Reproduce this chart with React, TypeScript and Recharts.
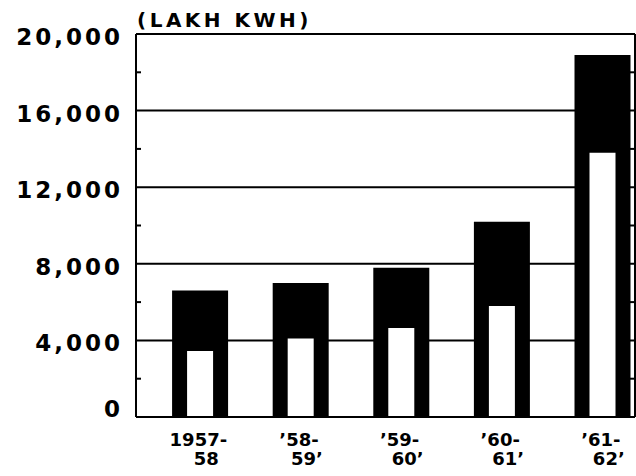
import React from 'react';
import {Bar, BarChart, CartesianGrid, ReferenceLine, XAxis, YAxis} from 'recharts';

// years, split on two lines like the printed labels
const yearTop = ['1957-', '\u201958-', '\u201959-', '\u201960-', '\u201961-'];
const yearBottom = ['58', '59\u2019', '60\u2019', '61\u2019', '62\u2019'];

// units generated (lakh kWh): black bar = total, white bar = inner part
const totalUnits = [6600, 7000, 7800, 10200, 18900];
const innerUnits = [3450, 4100, 4650, 5800, 13800];

const yTicks = [0, 4000, 8000, 12000, 16000, 20000];
const minorTicks = [2000, 6000, 10000, 14000, 18000];

const data = yearTop.map((_, i) => ({idx: i, total: totalUnits[i], inner: innerUnits[i]}));

const X_DOMAIN: [number, number] = [-0.64, 4.32];
const FONT = '"DejaVu Sans", sans-serif';

const XTick = (props: any) => {
    const {x, y, payload} = props;
    const i = payload.value;
    return (
        <g>
            <text x={x - 2} y={y + 21} textAnchor="middle" fontFamily={FONT} fontWeight="bold"
                  fontSize={18} fill="#000">{yearTop[i]}</text>
            <text x={x + 6} y={y + 40} textAnchor="middle" fontFamily={FONT} fontWeight="bold"
                  fontSize={18} fill="#000">{yearBottom[i]}</text>
        </g>
    );
};

const YTick = (props: any) => {
    const {x, y, payload} = props;
    const v = payload.value;
    return (
        <text x={x} y={v === 0 ? y : y + 11} textAnchor="end" fontFamily={FONT} fontWeight="bold"
              fontSize={23} letterSpacing={3} fill="#000">
            {v.toLocaleString('en-US')}
        </text>
    );
};

const App: React.FC = () => {
    return (
        <div style={{position: 'absolute', left: 0, top: 0, width: 636, height: 476, background: '#fff'}}>
            <div style={{
                position: 'absolute', left: 137, top: 10, lineHeight: '20px', fontFamily: FONT,
                fontWeight: 'bold', fontSize: 20, letterSpacing: 3.5, whiteSpace: 'nowrap'
            }}>(LAKH KWH)
            </div>
            <BarChart width={636} height={476} data={data}
                      margin={{top: 34, right: 1, left: 0, bottom: 0}}>
                <CartesianGrid vertical={false} stroke="#000" strokeWidth={2}/>
                <XAxis xAxisId="outer" type="number" dataKey="idx" domain={X_DOMAIN}
                       allowDataOverflow ticks={[0, 1, 2, 3, 4]} interval={0}
                       tick={XTick} tickLine={false} height={59}
                       axisLine={{stroke: '#000', strokeWidth: 2}}/>
                <XAxis xAxisId="inner" type="number" dataKey="idx" domain={X_DOMAIN}
                       allowDataOverflow hide height={0}/>
                <YAxis domain={[0, 20000]} ticks={yTicks} interval={0} width={136}
                       tick={YTick} tickLine={false} tickSize={6} tickMargin={7}
                       axisLine={{stroke: '#000', strokeWidth: 2}}/>
                <Bar xAxisId="outer" dataKey="total" fill="#000" barSize={56}
                     isAnimationActive={false}/>
                <Bar xAxisId="inner" dataKey="inner" fill="#fff" barSize={26}
                     isAnimationActive={false}/>
                <ReferenceLine xAxisId="outer" x={X_DOMAIN[1]} stroke="#000" strokeWidth={2}
                               ifOverflow="visible"/>
                {minorTicks.map(v => (
                    <ReferenceLine key={'l' + v} xAxisId="outer" ifOverflow="visible"
                                   segment={[{x: X_DOMAIN[0], y: v}, {x: X_DOMAIN[0] + 0.05, y: v}]}
                                   stroke="#000" strokeWidth={2}/>
                ))}
                {minorTicks.map(v => (
                    <ReferenceLine key={'r' + v} xAxisId="outer" ifOverflow="visible"
                                   segment={[{x: X_DOMAIN[1] - 0.05, y: v}, {x: X_DOMAIN[1], y: v}]}
                                   stroke="#000" strokeWidth={2}/>
                ))}
            </BarChart>
        </div>
    );
};

export default App;
